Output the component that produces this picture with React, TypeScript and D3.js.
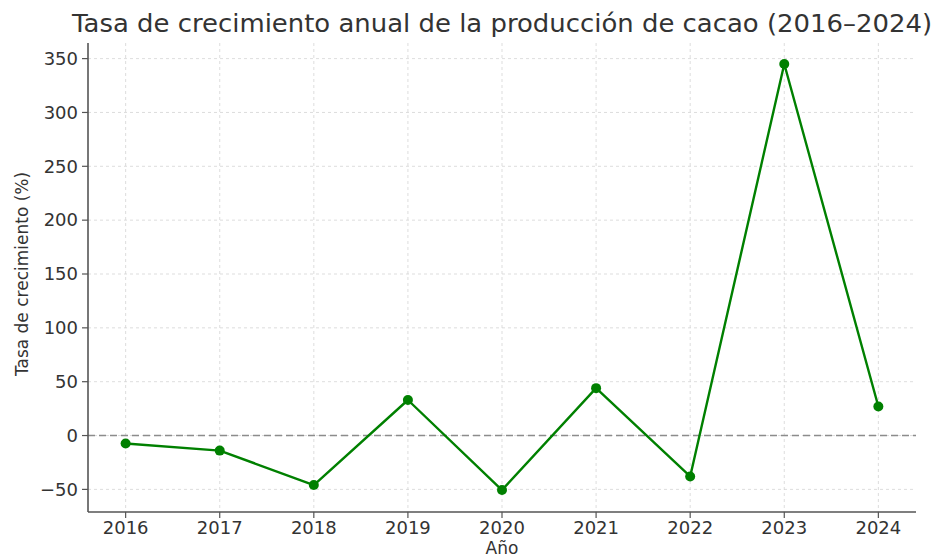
import React from 'react';
import * as d3 from 'd3';

const years = [2016, 2017, 2018, 2019, 2020, 2021, 2022, 2023, 2024];
const growth = [-7.4, -14, -46, 33, -50.6, 44, -38, 345, 27];
const yTicks = [-50, 0, 50, 100, 150, 200, 250, 300, 350];

const W = 935;
const H = 558;
const margin = { top: 43, right: 19, bottom: 46, left: 88 };

const App = () => {
    const innerW = W - margin.left - margin.right;
    const innerH = H - margin.top - margin.bottom;

    const x = d3.scaleLinear().domain([2015.6, 2024.4]).range([0, innerW]);
    const y = d3.scaleLinear().domain([-71, 364.5]).range([innerH, 0]);

    const line = d3.line<number>()
        .x((d, i) => x(years[i]))
        .y(d => y(d));

    const font = "'DejaVu Sans', sans-serif";
    const axisColor = '#555';
    const textColor = '#333';

    return (
        <div style={{ position: 'absolute', left: 0, top: 0 }}>
            <svg width={W} height={H} style={{ display: 'block', background: '#fff' }} fontFamily={font}>
                <text x={margin.left + innerW / 2} y={32} textAnchor="middle" fontSize={25} fill={textColor}
                    textLength={860} lengthAdjust="spacingAndGlyphs">
                    Tasa de crecimiento anual de la producción de cacao (2016–2024)
                </text>
                <g transform={`translate(${margin.left},${margin.top})`}>
                    {/* grid */}
                    {years.map(yr => (
                        <line key={'vx' + yr} x1={x(yr)} x2={x(yr)} y1={0} y2={innerH}
                            stroke="#d4d4d4" strokeWidth={0.8} strokeDasharray="3,3" />
                    ))}
                    {yTicks.map(t => (
                        <line key={'gy' + t} x1={0} x2={innerW} y1={y(t)} y2={y(t)}
                            stroke="#d4d4d4" strokeWidth={0.8} strokeDasharray="3,3" />
                    ))}
                    {/* zero reference */}
                    <line x1={0} x2={innerW} y1={y(0)} y2={y(0)}
                        stroke="#8c8c8c" strokeWidth={1.5} strokeDasharray="7,4" />

                    {/* series */}
                    <path d={line(growth) || ''} fill="none" stroke="#008000" strokeWidth={2.4} strokeLinejoin="round" />
                    {growth.map((v, i) => (
                        <circle key={'p' + i} cx={x(years[i])} cy={y(v)} r={5} fill="#008000" />
                    ))}

                    {/* spines */}
                    <line x1={0} x2={0} y1={0} y2={innerH} stroke={axisColor} strokeWidth={1.6} />
                    <line x1={0} x2={innerW} y1={innerH} y2={innerH} stroke={axisColor} strokeWidth={1.6} />

                    {/* y ticks */}
                    {yTicks.map(t => (
                        <g key={'ty' + t} transform={`translate(0,${y(t)})`}>
                            <line x1={-6} x2={0} stroke={axisColor} strokeWidth={1.2} />
                            <text x={-10} dy="0.35em" textAnchor="end" fontSize={18} fill={textColor}>
                                {t < 0 ? '\u2212' + Math.abs(t) : t}
                            </text>
                        </g>
                    ))}
                    {/* x ticks */}
                    {years.map(yr => (
                        <g key={'tx' + yr} transform={`translate(${x(yr)},${innerH})`}>
                            <line y1={0} y2={6} stroke={axisColor} strokeWidth={1.2} />
                            <text y={22} textAnchor="middle" fontSize={18} fill={textColor}>{yr}</text>
                        </g>
                    ))}
                </g>
                <text transform={`translate(28,${margin.top + y(150)}) rotate(-90)`} textAnchor="middle"
                    fontSize={17} fill={textColor}>
                    Tasa de crecimiento (%)
                </text>
                <text x={margin.left + innerW / 2} y={554} textAnchor="middle" fontSize={17} fill={textColor}>
                    Año
                </text>
            </svg>
        </div>
    );
};

export default App;
